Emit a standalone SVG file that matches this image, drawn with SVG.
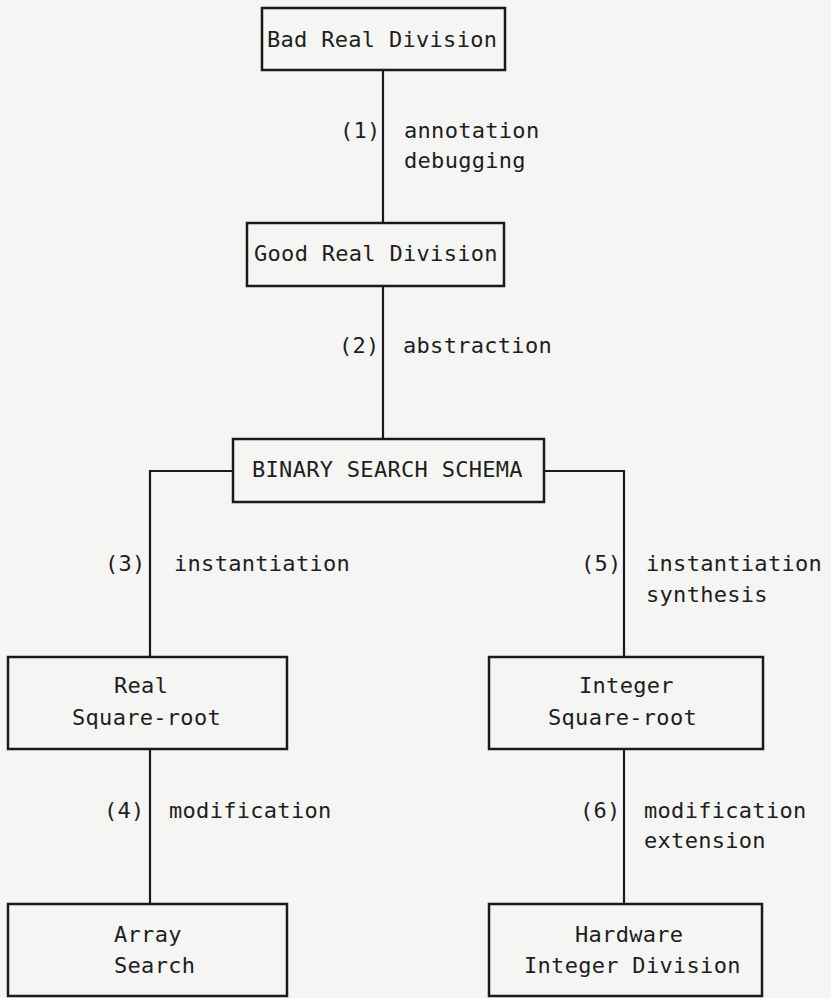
<svg xmlns="http://www.w3.org/2000/svg" width="831" height="998" viewBox="0 0 831 998">
<style>
.bg{fill:#f5f5f3}
.box{fill:none;stroke:#1a1a1a;stroke-width:2.5}
.ln{fill:none;stroke:#1a1a1a;stroke-width:2.2}
text{font-family:"DejaVu Sans Mono","Liberation Mono",monospace;font-size:22px;letter-spacing:0.3px;fill:#1e1e1e}
</style>
<rect class="bg" x="0" y="0" width="831" height="998"/>
<g id="connectors">
<line class="ln" x1="383" y1="70" x2="383" y2="223"/>
<line class="ln" x1="383" y1="286" x2="383" y2="439"/>
<polyline class="ln" points="233,471 150,471 150,657"/>
<polyline class="ln" points="544,471 624,471 624,657"/>
<line class="ln" x1="150" y1="749" x2="150" y2="904"/>
<line class="ln" x1="624" y1="749" x2="624" y2="904"/>
<text x="340" y="138">(1)</text>
<text x="404" y="138">annotation</text>
<text x="404" y="168">debugging</text>
<text x="339" y="353">(2)</text>
<text x="403" y="353">abstraction</text>
<text x="105" y="571">(3)</text>
<text x="174" y="571">instantiation</text>
<text x="581" y="571">(5)</text>
<text x="646" y="571">instantiation</text>
<text x="646" y="602">synthesis</text>
<text x="104" y="818">(4)</text>
<text x="169" y="818">modification</text>
<text x="580" y="818">(6)</text>
<text x="644" y="818">modification</text>
<text x="644" y="848">extension</text>
</g>
<g id="bad-real-division">
<rect class="box" x="262" y="8" width="243" height="62"/>
<text x="267" y="47">Bad Real Division</text>
</g>
<g id="good-real-division">
<rect class="box" x="247" y="223" width="257" height="63"/>
<text x="254" y="261">Good Real Division</text>
</g>
<g id="binary-search-schema">
<rect class="box" x="233" y="439" width="311" height="63"/>
<text x="252" y="477">BINARY SEARCH SCHEMA</text>
</g>
<g id="real-square-root">
<rect class="box" x="8" y="657" width="279" height="92"/>
<text x="114" y="693">Real</text>
<text x="72" y="725">Square-root</text>
</g>
<g id="integer-square-root">
<rect class="box" x="489" y="657" width="274" height="92"/>
<text x="579" y="693">Integer</text>
<text x="548" y="725">Square-root</text>
</g>
<g id="array-search">
<rect class="box" x="8" y="904" width="279" height="92"/>
<text x="114" y="942">Array</text>
<text x="114" y="973">Search</text>
</g>
<g id="hardware-integer-division">
<rect class="box" x="489" y="904" width="273" height="92"/>
<text x="575" y="942">Hardware</text>
<text x="524" y="973">Integer Division</text>
</g>
</svg>
